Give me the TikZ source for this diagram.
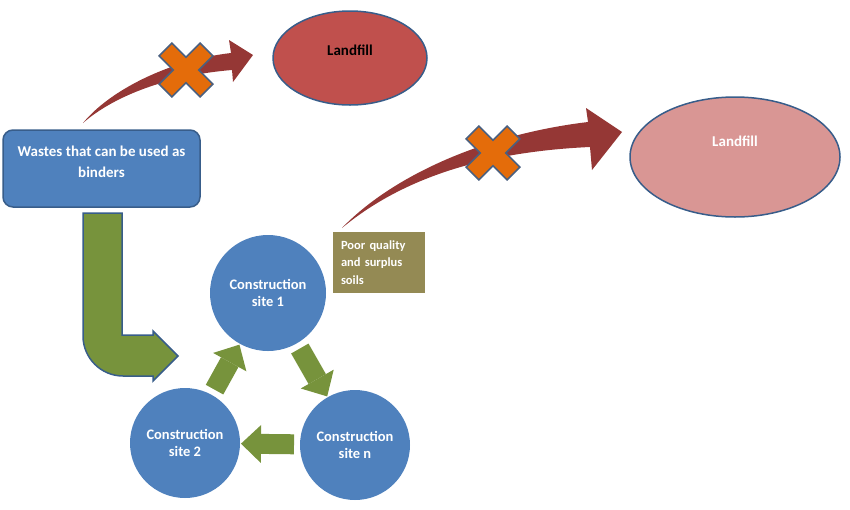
\documentclass[tikz,border=0pt]{standalone}
\usepackage{fontspec}
\setmainfont{Carlito}
\usetikzlibrary{shapes.geometric,arrows.meta}

\definecolor{siteblue}{HTML}{4F81BD}
\definecolor{edgeblue}{HTML}{385D8A}
\definecolor{fillred}{HTML}{C0504D}
\definecolor{fillpink}{HTML}{D99694}
\definecolor{wastered}{HTML}{953735}
\definecolor{nogoorange}{HTML}{E46C0A}
\definecolor{nogoedge}{HTML}{4A6080}
\definecolor{soilolive}{HTML}{948A54}
\definecolor{cyclegreen}{HTML}{77933C}

\begin{document}
\begin{tikzpicture}[x=1pt,y=-1pt,font=\bfseries]
\tikzstyle{site}=[circle,fill=siteblue,text=white,align=center,inner sep=0,outer sep=0,font=\bfseries\fontsize{14.5}{17}\selectfont]
\tikzstyle{landfill}=[ellipse,draw=edgeblue,line width=1.5pt,inner sep=0,font=\bfseries\fontsize{15}{18}\selectfont,text height=10pt]
\tikzstyle{cyclearrow}=[draw=cyclegreen,line width=20pt,-{Triangle[length=20pt,width=38pt,line width=0pt]},shorten <=6pt,shorten >=1pt]
\tikzstyle{nogo}=[fill=nogoorange,draw=nogoedge,line width=1.5pt,line join=miter]
\useasboundingbox (0,0) rectangle (850,509);

% sources and landfills
\node[draw=edgeblue,line width=1.5pt,fill=siteblue,rounded corners=10pt,minimum width=197,minimum height=77,text=white,align=center,font=\bfseries\fontsize{15}{21}\selectfont] (waste) at (101.5,168.5) {Wastes that can be used as\\binders\vrule width0pt depth13pt height0pt};
\node[landfill,fill=fillred,minimum width=154,minimum height=94,text depth=16pt] (landfillA) at (350,58) {Landfill};
\node[landfill,fill=fillpink,minimum width=210,minimum height=120,text=white,text depth=32pt] (landfillB) at (735,157) {Landfill};

% construction sites
\foreach \name/\x/\y/\r/\n in {site1/268/293/58/1,site2/185/443/55/2,siten/355/445/55/n}{
\node[site,minimum size=2*\r pt] (\name) at (\x,\y) {Construction\\site \n};
};
\node[fill=soilolive,minimum width=92,minimum height=61,text width=76,inner xsep=8pt,align=left,text=white,font=\bfseries\fontsize{12.5}{17.5}\selectfont] (soils) at (379,262.5) {Poor quality\\and surplus\\soils};

% arrows to landfill (crossed out)
\fill[wastered] (83,123) .. controls (110,90) and (170,60) .. (231,53) -- (229,40) -- (253,55) -- (233,82) -- (232,70) .. controls (170,75) and (115,95) .. (83,123) -- cycle;
\fill[wastered] (342,228) .. controls (390,178) and (480,135) .. (588,122) -- (586,108) -- (622,132) -- (592,170) -- (590,147) .. controls (480,152) and (400,180) .. (342,228) -- cycle;
\foreach \cx/\cy in {186/70,493/153}{
\draw[nogo,shift={(\cx,\cy)},rotate=45] (9,29) -- (9,9) -- (29,9) -- (29,-9) -- (9,-9) -- (9,-29) -- (-9,-29) -- (-9,-9) -- (-29,-9) -- (-29,9) -- (-9,9) -- (-9,29) -- cycle;
};

% binders into the cycle
\draw[fill=cyclegreen,draw=edgeblue,line width=1.5pt] (83,213) -- (122,213) -- (122,335) -- (153,335) -- (153,331) -- (178,356) -- (153,381) -- (153,376) -- (123,376) .. controls (101,376) and (83,358) .. (83,336) -- cycle;
\foreach \a/\b in {site2/site1,site1/siten,siten/site2}{
\draw[cyclearrow] (\a) -- (\b);
};
\end{tikzpicture}
\end{document}
